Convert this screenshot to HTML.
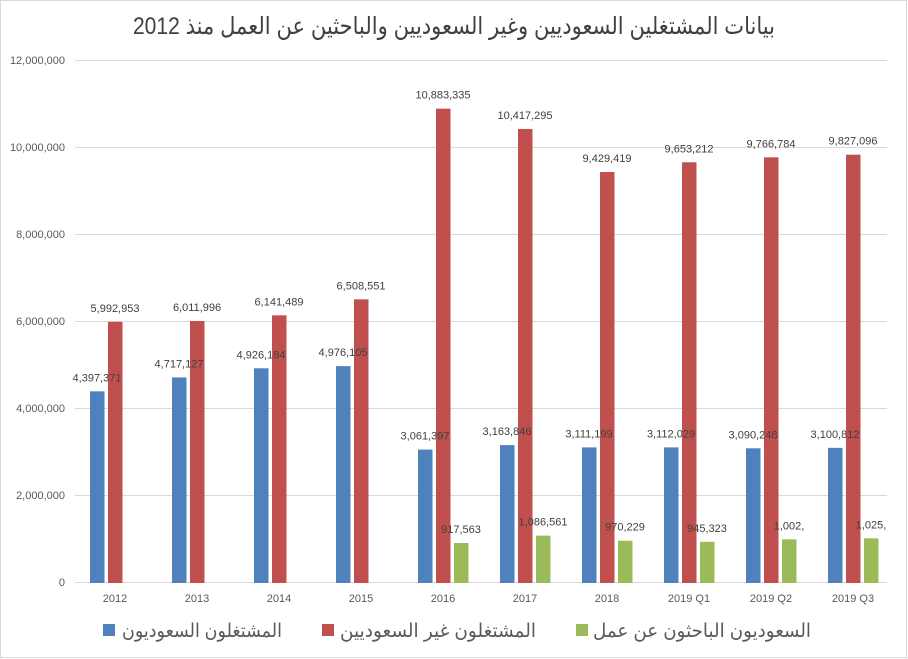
<!DOCTYPE html>
<html><head><meta charset="utf-8"><style>
body{margin:0;background:#fff}
svg{display:block}
text{font-family:"Liberation Sans","DejaVu Sans",sans-serif}
</style></head><body>
<svg width="908" height="659" viewBox="0 0 908 659" xmlns="http://www.w3.org/2000/svg">
<rect x="0.5" y="0.5" width="906" height="657" fill="#fff" stroke="#d9d9d9"/>
<text x="454" y="34" text-anchor="middle" font-size="24" fill="#404040" textLength="642" lengthAdjust="spacingAndGlyphs">بيانات المشتغلين السعوديين وغير السعوديين والباحثين عن العمل منذ 2012</text>
<g stroke="#d9d9d9" stroke-width="1">
<line x1="75" x2="887" y1="60.5" y2="60.5"/>
<line x1="75" x2="887" y1="147.5" y2="147.5"/>
<line x1="75" x2="887" y1="234.5" y2="234.5"/>
<line x1="75" x2="887" y1="321.5" y2="321.5"/>
<line x1="75" x2="887" y1="408.5" y2="408.5"/>
<line x1="75" x2="887" y1="495.5" y2="495.5"/>
<line x1="75" x2="887" y1="582.5" y2="582.5"/>
</g>
<g font-size="11" fill="#595959" text-anchor="end">
<text x="65" y="64">12,000,000</text>
<text x="65" y="151">10,000,000</text>
<text x="65" y="238">8,000,000</text>
<text x="65" y="325">6,000,000</text>
<text x="65" y="412">4,000,000</text>
<text x="65" y="499">2,000,000</text>
<text x="65" y="586">0</text>
</g>
<g id="bars"></g>
<g font-size="11" fill="#595959" text-anchor="middle" id="cats"></g>
<g font-size="11" fill="#404040" text-anchor="middle" id="labels"></g>
<rect x="103" y="624" width="12" height="12" fill="#4f81bd"/>
<text x="202" y="637" font-size="19" fill="#595959" text-anchor="middle" textLength="160" lengthAdjust="spacingAndGlyphs">المشتغلون السعوديون</text>
<rect x="322" y="624" width="12" height="12" fill="#c0504d"/>
<text x="438" y="637" font-size="19" fill="#595959" text-anchor="middle" textLength="196" lengthAdjust="spacingAndGlyphs">المشتغلون غير السعوديين</text>
<rect x="576" y="624" width="12" height="12" fill="#9bbb59"/>
<text x="702" y="637" font-size="19" fill="#595959" text-anchor="middle" textLength="218" lengthAdjust="spacingAndGlyphs">السعوديون الباحثون عن عمل</text>
<script>
var cats=["2012","2013","2014","2015","2016","2017","2018","2019 Q1","2019 Q2","2019 Q3"];
var b=[4397371,4717127,4926184,4976105,3061397,3163846,3111199,3112029,3090248,3100812];
var r=[5992953,6011996,6141489,6508551,10883335,10417295,9429419,9653212,9766784,9827096];
var g=[null,null,null,null,917563,1086561,970229,945323,1002000,1025000];
var gl=["","","","","917,563","1,086,561","970,229","945,323","1,002,","1,025,"];
var ns="http://www.w3.org/2000/svg";
function f(n){return n.toLocaleString("en-US");}
function el(p,t,a,tx){var e=document.createElementNS(ns,t);for(var k in a)e.setAttribute(k,a[k]);if(tx)e.textContent=tx;document.getElementById(p).appendChild(e);}
var s=523/12000000, base=583;
for(var i=0;i<10;i++){
 var x=90+82*i;
 var sets=[[b[i],"#4f81bd",0,f(b[i])],[r[i],"#c0504d",18,f(r[i])],[g[i],"#9bbb59",36,gl[i]]];
 sets.forEach(function(q){ if(q[0]==null)return;
  var h=q[0]*s; el("bars","rect",{x:x+q[2],y:base-h,width:14.5,height:h,fill:q[1]});
  el("labels","text",{x:x+q[2]+7,y:base-h-10},q[3]);
 });
 el("cats","text",{x:x+25,y:602},cats[i]);
}
</script>
</svg>
</body></html>
